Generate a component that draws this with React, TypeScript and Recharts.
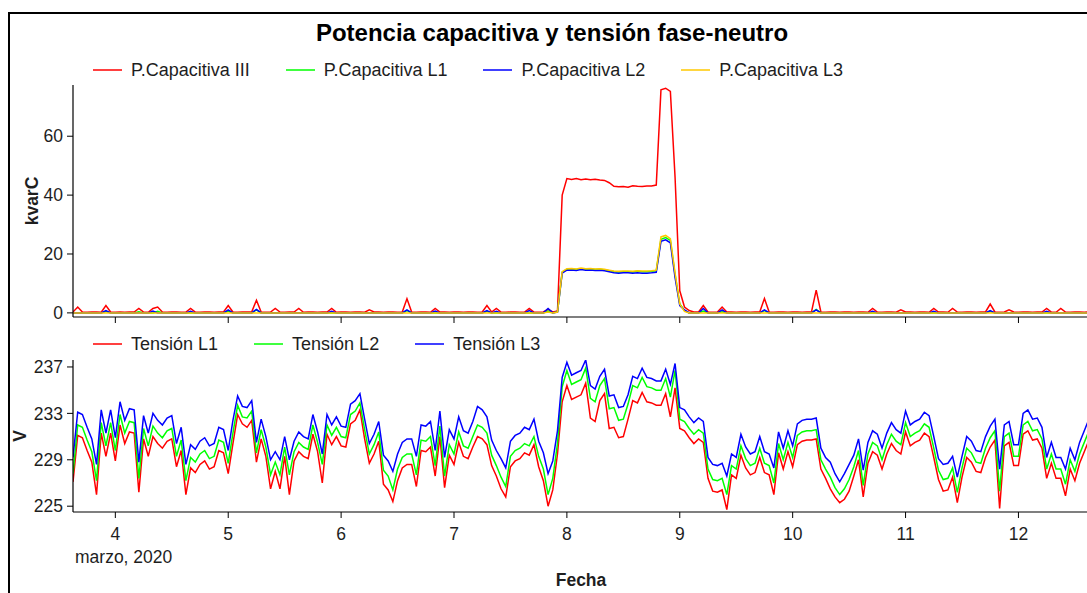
import { LineChart, Line, XAxis, YAxis, Legend } from 'recharts';

// horario: una muestra por hora desde el 3 de marzo 15:00 (días como número decimal)
const INICIO = 3.625;
const PASO = 1 / 24;
const dias = [4, 5, 6, 7, 8, 9, 10, 11, 12];

// kvarC
const pCapIII = [
  0.3, 2.0, 0.3, 0.2, 0.3, 0.3, 0.2, 2.5, 0.3, 0.2,
  0.3, 0.2, 0.3, 0.3, 1.5, 0.3, 0.2, 1.5, 2.0, 0.3,
  0.2, 0.3, 0.3, 0.2, 0.3, 1.5, 0.3, 0.2, 0.3, 0.3,
  0.2, 0.3, 0.3, 2.5, 0.3, 0.2, 0.3, 0.3, 0.4, 4.3,
  0.3, 0.2, 0.3, 1.5, 0.3, 0.2, 0.3, 0.3, 1.5, 0.2,
  0.3, 0.3, 0.2, 0.3, 0.3, 1.5, 0.2, 0.3, 0.3, 0.2,
  0.3, 0.3, 0.2, 1.0, 0.3, 0.3, 0.2, 0.3, 0.3, 0.2,
  0.3, 4.8, 0.3, 0.2, 0.3, 0.3, 0.2, 1.5, 0.3, 0.3,
  0.2, 0.3, 0.3, 0.2, 0.3, 0.3, 0.2, 0.3, 2.5, 0.3,
  1.5, 0.3, 0.2, 0.3, 0.3, 0.2, 0.3, 1.5, 0.3, 0.2,
  0.3, 1.2, 0.3, 0.6, 40.0, 45.6, 45.3, 45.6, 45.2, 45.5,
  45.2, 45.4, 45.1, 45.0, 44.2, 43.0, 42.8, 42.9, 42.7, 43.2,
  43.0, 42.9, 43.1, 43.1, 43.4, 75.8, 76.3, 75.2, 46.0, 7.5,
  2.0, 0.8, 0.3, 0.3, 2.5, 0.3, 0.2, 0.3, 2.0, 0.3,
  0.3, 0.2, 0.3, 0.3, 0.2, 0.3, 0.3, 4.9, 0.3, 0.2,
  0.3, 0.3, 0.2, 0.3, 0.3, 0.2, 0.3, 0.3, 7.7, 0.3,
  0.2, 0.3, 0.3, 0.2, 0.3, 0.3, 0.2, 0.3, 0.3, 0.2,
  1.5, 0.3, 0.2, 0.3, 0.3, 0.2, 1.0, 0.3, 0.3, 0.2,
  0.3, 0.3, 0.2, 1.5, 0.3, 0.3, 0.2, 1.5, 0.3, 0.2,
  0.3, 0.3, 0.2, 0.3, 0.3, 3.0, 0.3, 0.2, 0.3, 1.0,
  0.3, 0.2, 0.3, 0.3, 0.2, 0.3, 0.3, 1.5, 0.3, 0.2,
  1.5, 0.3, 0.2, 0.3, 0.3, 0.2, 0.3,
];
const pCapL1 = [
  0, 0, 0, 0, 0, 0, 0, 0.5, 0, 0,
  0, 0, 0, 0, 0.4, 0, 0, 0, 0.5, 0,
  0, 0, 0, 0, 0, 0, 0, 0, 0, 0,
  0, 0, 0, 0.6, 0, 0, 0, 0, 0, 1.0,
  0, 0, 0, 0, 0, 0, 0, 0, 0, 0,
  0, 0, 0, 0, 0, 0, 0, 0, 0, 0,
  0, 0, 0, 0, 0, 0, 0, 0, 0, 0,
  0, 0.8, 0, 0, 0, 0, 0, 0, 0, 0,
  0, 0, 0, 0, 0, 0, 0, 0, 0.5, 0,
  0, 0, 0, 0, 0, 0, 0, 0, 0, 0,
  0, 0.6, 0, 0.4, 13.8, 14.8, 14.9, 14.7, 15.0, 14.8,
  14.9, 14.7, 14.8, 14.6, 14.3, 14.0, 13.9, 14.0, 14.0, 13.9,
  14.1, 14.0, 14.0, 14.1, 14.3, 25.0, 25.6, 24.6, 13.0, 3.0,
  0.8, 0, 0, 0, 0.6, 0, 0, 0, 0.4, 0,
  0, 0, 0, 0, 0, 0, 0, 0.8, 0, 0,
  0, 0, 0, 0, 0, 0, 0, 0, 1.2, 0,
  0, 0, 0, 0, 0, 0, 0, 0, 0, 0,
  0, 0, 0, 0, 0, 0, 0, 0, 0, 0,
  0, 0, 0, 0, 0, 0, 0, 0, 0, 0,
  0, 0, 0, 0, 0, 0.5, 0, 0, 0, 0,
  0, 0, 0, 0, 0, 0, 0, 0, 0, 0,
  0, 0, 0, 0, 0, 0, 0,
];
const pCapL2 = [
  0, 0, 0, 0, 0, 0, 0, 0.8, 0, 0,
  0, 0, 0, 0, 0, 0, 0, 0.6, 0, 0,
  0, 0, 0, 0, 0, 0.5, 0, 0, 0, 0,
  0, 0, 0, 1.0, 0, 0, 0, 0, 0, 1.2,
  0, 0, 0, 0, 0, 0, 0, 0, 0, 0,
  0, 0, 0, 0, 0, 0.5, 0, 0, 0, 0,
  0, 0, 0, 0, 0, 0, 0, 0, 0, 0,
  0, 1.0, 0, 0, 0, 0, 0, 0.6, 0, 0,
  0, 0, 0, 0, 0, 0, 0, 0, 0.8, 0,
  0.5, 0, 0, 0, 0, 0, 0, 0.8, 0, 0,
  0, 1.5, 0, 0.3, 13.5, 14.5, 14.6, 14.4, 14.7, 14.5,
  14.6, 14.4, 14.5, 14.3, 14.0, 13.6, 13.5, 13.6, 13.6, 13.5,
  13.6, 13.5, 13.5, 13.6, 13.8, 24.3, 24.8, 23.8, 12.0, 2.5,
  1.0, 0, 0, 0, 1.5, 0, 0, 0, 1.0, 0,
  0, 0, 0, 0, 0, 0, 0, 1.0, 0, 0,
  0, 0, 0, 0, 0, 0, 0, 0, 1.0, 0,
  0, 0, 0, 0, 0, 0, 0, 0, 0, 0,
  0.5, 0, 0, 0, 0, 0, 0, 0, 0, 0,
  0, 0, 0, 0.5, 0, 0, 0, 0, 0, 0,
  0, 0, 0, 0, 0, 0.8, 0, 0, 0, 0,
  0, 0, 0, 0, 0, 0, 0, 0.5, 0, 0,
  0, 0, 0, 0, 0, 0, 0,
];
const pCapL3 = [
  0, 0, 0, 0, 0, 0, 0, 0, 0, 0,
  0, 0, 0, 0, 0, 0, 0, 0, 0, 0,
  0, 0, 0, 0, 0, 0, 0, 0, 0, 0,
  0, 0, 0, 0, 0, 0, 0, 0, 0, 0,
  0, 0, 0, 0, 0, 0, 0, 0, 0, 0,
  0, 0, 0, 0, 0, 0, 0, 0, 0, 0,
  0, 0, 0, 0, 0, 0, 0, 0, 0, 0,
  0, 0, 0, 0, 0, 0, 0, 0, 0, 0,
  0, 0, 0, 0, 0, 0, 0, 0, 0, 0,
  0, 0, 0, 0, 0, 0, 0, 0, 0, 0,
  0, 0.3, 0, 0.3, 14.0, 15.0, 15.1, 14.9, 15.2, 15.0,
  15.1, 14.9, 15.0, 14.8, 14.5, 14.2, 14.1, 14.2, 14.2, 14.1,
  14.3, 14.2, 14.2, 14.3, 14.5, 25.8, 26.3, 25.2, 13.5, 3.0,
  0.5, 0, 0, 0, 0, 0, 0, 0, 0, 0,
  0, 0, 0, 0, 0, 0, 0, 0, 0, 0,
  0, 0, 0, 0, 0, 0, 0, 0, 0, 0,
  0, 0, 0, 0, 0, 0, 0, 0, 0, 0,
  0, 0, 0, 0, 0, 0, 0, 0, 0, 0,
  0, 0, 0, 0, 0, 0, 0, 0, 0, 0,
  0, 0, 0, 0, 0, 0, 0, 0, 0, 0,
  0, 0, 0, 0, 0, 0, 0, 0, 0, 0,
  0, 0, 0, 0, 0, 0, 0,
];

// V
const tensionL1 = [
  227.1, 231.1, 230.9, 229.8, 228.8, 226.0, 231.3, 229.3, 231.3, 228.9,
  232.0, 230.4, 231.4, 231.3, 226.2, 230.8, 229.3, 231.0, 230.4, 230.0,
  230.6, 230.8, 228.4, 229.8, 226.0, 228.3, 227.9, 228.6, 228.9, 228.2,
  228.4, 229.8, 229.6, 227.8, 230.4, 232.9, 232.1, 231.8, 232.4, 228.8,
  230.8, 229.3, 226.5, 228.0, 226.5, 229.3, 226.0, 228.9, 229.7, 229.3,
  229.1, 231.2, 229.7, 227.0, 231.2, 230.3, 231.0, 230.2, 230.1, 232.1,
  232.4, 233.3, 230.8, 228.7, 229.5, 230.6, 226.9, 226.4, 225.4, 227.2,
  228.3, 228.6, 228.6, 226.7, 229.8, 229.7, 230.1, 227.6, 231.0, 226.6,
  229.4, 228.6, 230.5, 229.3, 229.1, 230.1, 231.0, 230.8, 230.3, 228.5,
  227.6, 226.5, 225.8, 228.4, 228.9, 229.1, 229.6, 229.4, 230.3, 228.4,
  227.2, 225.0, 226.4, 229.5, 234.0, 235.4, 234.2, 234.4, 234.6, 235.6,
  232.6, 232.3, 234.1, 234.7, 231.7, 231.8, 230.9, 231.0, 232.5, 234.1,
  233.9, 234.8, 234.0, 233.9, 233.7, 233.7, 234.7, 232.7, 235.2, 231.7,
  231.5, 230.9, 230.4, 230.8, 230.5, 227.4, 226.3, 226.2, 226.4, 224.7,
  227.7, 227.4, 229.4, 228.3, 227.7, 227.9, 229.2, 227.9, 227.7, 226.0,
  229.6, 228.2, 229.7, 228.4, 230.3, 230.6, 230.7, 230.7, 230.8, 228.2,
  227.4, 226.5, 225.8, 225.3, 225.6, 226.3, 227.6, 229.0, 225.8, 228.7,
  229.7, 229.4, 228.2, 229.5, 230.4, 229.8, 229.5, 231.4, 230.2, 230.5,
  230.7, 231.3, 231.0, 229.2, 227.3, 226.3, 226.4, 227.5, 225.3, 227.5,
  229.2, 228.8, 228.0, 227.9, 229.2, 230.1, 230.7, 224.8, 230.2, 230.5,
  228.5, 228.5, 231.2, 231.5, 230.7, 230.8, 230.0, 227.4, 228.7, 227.4,
  227.4, 225.9, 228.2, 227.2, 228.7, 229.7, 230.7,
];
const tensionL2 = [
  227.8, 232.0, 231.8, 230.7, 229.7, 227.2, 232.2, 230.2, 232.2, 229.8,
  232.9, 231.3, 232.3, 232.2, 227.4, 231.7, 230.2, 231.9, 231.3, 230.9,
  231.5, 231.7, 229.3, 230.7, 227.2, 229.2, 228.8, 229.5, 229.8, 229.1,
  229.3, 230.7, 230.5, 228.7, 231.3, 233.7, 232.7, 232.6, 233.2, 229.6,
  231.6, 230.1, 227.7, 228.8, 227.7, 230.1, 227.7, 229.7, 230.5, 230.1,
  229.9, 232.0, 230.5, 228.6, 232.0, 231.1, 231.8, 231.0, 230.9, 232.9,
  233.2, 233.9, 231.6, 229.5, 230.3, 231.4, 228.1, 227.6, 226.4, 228.2,
  229.2, 229.5, 229.5, 227.7, 230.7, 230.6, 231.0, 228.5, 231.9, 227.6,
  230.3, 229.5, 231.4, 230.2, 230.0, 231.0, 232.0, 231.8, 231.3, 229.4,
  228.5, 227.5, 226.7, 229.3, 229.8, 230.0, 230.4, 230.2, 231.0, 229.3,
  228.2, 226.0, 227.4, 230.4, 235.3, 236.7, 235.5, 235.7, 235.9, 236.9,
  234.3, 234.0, 235.4, 236.0, 233.4, 233.5, 232.4, 232.5, 233.8, 235.4,
  235.2, 236.1, 235.3, 235.2, 235.0, 235.0, 236.0, 234.4, 236.7, 232.5,
  232.3, 231.7, 231.2, 231.6, 231.3, 228.2, 227.3, 227.2, 227.4, 226.0,
  228.5, 228.2, 230.2, 229.1, 228.5, 228.7, 230.0, 228.7, 228.5, 227.0,
  230.4, 229.0, 230.5, 229.2, 231.1, 231.4, 231.5, 231.5, 231.6, 229.0,
  228.2, 227.5, 226.6, 226.0, 226.5, 227.3, 228.4, 229.8, 226.8, 229.5,
  230.5, 230.2, 229.0, 230.3, 231.2, 230.6, 230.3, 232.2, 231.0, 231.3,
  231.5, 232.1, 231.8, 230.0, 228.1, 227.3, 227.4, 228.3, 226.2, 228.3,
  230.0, 229.6, 228.8, 228.7, 230.0, 230.9, 231.5, 226.3, 231.0, 231.3,
  229.3, 229.3, 232.0, 232.3, 231.5, 231.6, 230.8, 228.2, 229.5, 228.2,
  228.2, 226.9, 229.0, 228.0, 229.5, 230.5, 231.5,
];
const tensionL3 = [
  229.2, 233.1, 232.9, 231.8, 230.8, 228.6, 233.3, 231.3, 233.3, 230.9,
  234.0, 232.4, 233.4, 233.3, 228.8, 232.8, 231.3, 233.0, 232.4, 232.0,
  232.6, 232.8, 230.4, 231.8, 228.6, 230.3, 229.9, 230.6, 230.9, 230.2,
  230.4, 231.8, 231.6, 229.8, 232.4, 234.5, 233.6, 233.5, 234.1, 230.5,
  232.5, 231.0, 229.0, 229.7, 229.0, 231.0, 229.0, 230.6, 231.4, 231.0,
  230.8, 232.9, 231.4, 229.5, 232.9, 232.0, 232.7, 231.9, 231.8, 233.8,
  234.1, 234.7, 232.5, 230.4, 231.2, 232.3, 229.4, 228.9, 228.0, 229.5,
  230.5, 230.8, 230.8, 229.3, 232.0, 231.9, 232.3, 229.8, 233.2, 229.2,
  231.6, 230.8, 232.7, 231.5, 231.3, 232.3, 233.6, 233.3, 232.7, 230.7,
  229.8, 229.1, 228.3, 230.6, 231.1, 231.3, 231.8, 231.6, 232.5, 230.6,
  229.6, 227.8, 228.9, 231.5, 236.1, 237.4, 236.3, 236.5, 236.7, 237.6,
  235.4, 235.1, 236.2, 236.8, 234.5, 234.6, 233.5, 233.6, 234.6, 236.2,
  236.0, 236.9, 236.1, 236.0, 235.8, 235.8, 236.8, 235.5, 237.3, 233.5,
  233.3, 232.7, 232.2, 232.6, 232.3, 229.2, 228.6, 228.5, 228.7, 227.6,
  229.5, 229.2, 231.2, 230.1, 229.5, 229.7, 231.0, 229.7, 229.5, 228.3,
  231.4, 230.0, 231.5, 230.2, 232.1, 232.4, 232.5, 232.5, 232.6, 230.0,
  229.2, 228.8, 227.8, 227.1, 227.8, 228.6, 229.4, 230.8, 228.1, 230.5,
  231.5, 231.2, 230.0, 231.3, 232.2, 231.6, 231.3, 233.2, 232.0, 232.3,
  232.5, 233.1, 232.8, 231.0, 229.1, 228.6, 228.7, 229.3, 227.5, 229.3,
  231.0, 230.6, 229.8, 229.7, 231.0, 231.9, 232.5, 228.2, 232.0, 232.3,
  230.3, 230.3, 233.0, 233.3, 232.5, 232.6, 231.8, 229.2, 230.5, 229.2,
  229.2, 228.2, 230.0, 229.0, 230.5, 231.5, 232.5,
];

const FONT = '"Liberation Sans", Arial, sans-serif';
const TXT = '#1e1e1e';

const potenciaSeries = [
  { key: 'iii', name: 'P.Capacitiva III', color: '#ff0000' },
  { key: 'l1', name: 'P.Capacitiva L1', color: '#00ff00' },
  { key: 'l2', name: 'P.Capacitiva L2', color: '#0000ff' },
  { key: 'l3', name: 'P.Capacitiva L3', color: '#ffc800' },
];
const tensionSeries = [
  { key: 'l1', name: 'Tensión L1', color: '#ff0000' },
  { key: 'l2', name: 'Tensión L2', color: '#00ff00' },
  { key: 'l3', name: 'Tensión L3', color: '#0000ff' },
];

const potenciaData = pCapIII.map((v, i) => ({
  t: INICIO + i * PASO,
  iii: v,
  l1: pCapL1[i],
  l2: pCapL2[i],
  l3: pCapL3[i],
}));
const tensionData = tensionL1.map((v, i) => ({
  t: INICIO + i * PASO,
  l1: v,
  l2: tensionL2[i],
  l3: tensionL3[i],
}));

type Item = { key: string; name: string; color: string };

function LegendRow({ items, height }: { items: Item[]; height: number }) {
  return (
    <div
      style={{
        display: 'flex',
        alignItems: 'center',
        height,
        paddingLeft: 93,
        fontFamily: FONT,
        fontSize: 18,
        color: TXT,
        whiteSpace: 'nowrap',
      }}
    >
      {items.map((it) => (
        <div key={it.key} style={{ display: 'flex', alignItems: 'center', marginRight: 36 }}>
          <svg width={29} height={4}>
            <line x1={0} y1={2} x2={29} y2={2} stroke={it.color} strokeWidth={1.5} />
          </svg>
          <span style={{ marginLeft: 9 }}>{it.name}</span>
        </div>
      ))}
    </div>
  );
}

const axisLine = { stroke: '#000', strokeWidth: 1.2 };
const tickStyle = { fill: TXT, fontSize: 17.5, fontFamily: FONT };

function yLabel(text: string, dx: number) {
  return ({ viewBox }: any) => {
    const x = viewBox.x + dx;
    const y = viewBox.y + viewBox.height / 2;
    return (
      <text
        x={x}
        y={y}
        transform={`rotate(-90, ${x}, ${y})`}
        textAnchor="middle"
        fontFamily={FONT}
        fontWeight="bold"
        fontSize={17.5}
        fill={TXT}
      >
        {text}
      </text>
    );
  };
}

function FechaLabel({ viewBox }: any) {
  return (
    <g fontFamily={FONT} fontSize={17.5} fill={TXT}>
      <text x={75} y={viewBox.y + 51}>marzo, 2020</text>
      <text x={viewBox.x + viewBox.width / 2} y={viewBox.y + 74} textAnchor="middle" fontWeight="bold">
        Fecha
      </text>
    </g>
  );
}

export default function App() {
  return (
    <div
      style={{
        position: 'absolute',
        left: 0,
        top: 0,
        width: 1087,
        height: 593,
        overflow: 'hidden',
        background: '#fff',
      }}
    >
      <div
        style={{
          position: 'absolute',
          left: 8,
          top: 12,
          width: 1200,
          height: 700,
          borderLeft: '2px solid #000',
          borderTop: '2px solid #000',
        }}
      />
      <div
        style={{
          position: 'absolute',
          left: 0,
          top: 21,
          width: 1104,
          textAlign: 'center',
          fontFamily: FONT,
          fontWeight: 'bold',
          fontSize: 24,
          lineHeight: '24px',
          color: '#000',
        }}
      >
        Potencia capacitiva y tensión fase-neutro
      </div>

      <div style={{ position: 'absolute', left: 0, top: 55 }}>
        <LineChart width={1100} height={270} data={potenciaData} margin={{ top: 0, right: 11, bottom: 0, left: 13 }}>
          <Legend
            verticalAlign="top"
            height={30}
            wrapperStyle={{ left: 0, top: 0, width: 1100 }}
            content={() => <LegendRow items={potenciaSeries} height={30} />}
          />
          <XAxis
            type="number"
            dataKey="t"
            domain={[INICIO, INICIO + 9]}
            ticks={dias}
            allowDataOverflow
            tick={() => <g />}
            tickSize={6}
            height={8}
            axisLine={axisLine}
            tickLine={{ stroke: '#000' }}
          />
          <YAxis
            domain={[-1.4, 77.4]}
            ticks={[0, 20, 40, 60]}
            allowDataOverflow
            width={60}
            tickSize={6}
            tickMargin={4}
            tick={tickStyle}
            axisLine={axisLine}
            tickLine={{ stroke: '#000' }}
            label={{ content: yLabel('kvarC', 25) }}
          />
          {potenciaSeries.map((s) => (
            <Line
              key={s.key}
              type="linear"
              dataKey={s.key}
              name={s.name}
              stroke={s.color}
              strokeWidth={1.5}
              dot={false}
              activeDot={false}
              isAnimationActive={false}
            />
          ))}
        </LineChart>
      </div>

      <div style={{ position: 'absolute', left: 0, top: 328 }}>
        <LineChart width={1100} height={265} data={tensionData} margin={{ top: 0, right: 11, bottom: 0, left: 13 }}>
          <Legend
            verticalAlign="top"
            height={32}
            wrapperStyle={{ left: 0, top: 0, width: 1100 }}
            content={() => <LegendRow items={tensionSeries} height={32} />}
          />
          <XAxis
            type="number"
            dataKey="t"
            domain={[INICIO, INICIO + 9]}
            ticks={dias}
            allowDataOverflow
            tickSize={6}
            tickMargin={10}
            height={81}
            tick={tickStyle}
            axisLine={axisLine}
            tickLine={{ stroke: '#000' }}
            label={{ content: FechaLabel }}
          />
          <YAxis
            domain={[224.5, 237.6]}
            ticks={[225, 229, 233, 237]}
            allowDataOverflow
            width={60}
            tickSize={6}
            tickMargin={4}
            tick={tickStyle}
            axisLine={axisLine}
            tickLine={{ stroke: '#000' }}
            label={{ content: yLabel('V', 13) }}
          />
          {tensionSeries.map((s) => (
            <Line
              key={s.key}
              type="linear"
              dataKey={s.key}
              name={s.name}
              stroke={s.color}
              strokeWidth={1.5}
              dot={false}
              activeDot={false}
              isAnimationActive={false}
            />
          ))}
        </LineChart>
      </div>
    </div>
  );
}
